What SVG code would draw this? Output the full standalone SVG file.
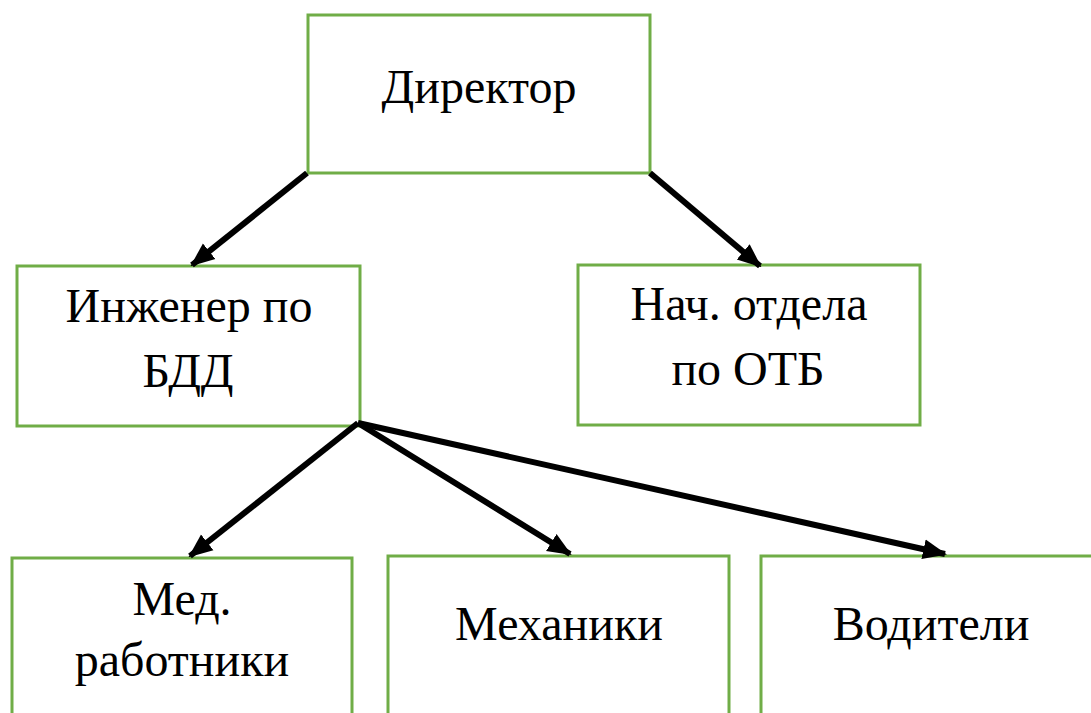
<svg xmlns="http://www.w3.org/2000/svg" width="1091" height="713" viewBox="0 0 1091 713">
<style>
.box{fill:#fff;stroke:#70ad47;stroke-width:3}
.t{font-family:"Liberation Serif","Times New Roman",serif;font-size:48px;fill:#000;text-anchor:middle}
.c{stroke:#000;stroke-width:6;fill:none;marker-end:url(#ah)}
</style>
<defs>
<marker id="ah" markerUnits="userSpaceOnUse" markerWidth="24" markerHeight="24" viewBox="0 0 24 24" refX="22" refY="12" orient="auto">
<path d="M0,2 L24,12 L0,22 Z" fill="#000"/>
</marker>
</defs>
<rect width="1091" height="713" fill="#fff"/>
<g id="director"><rect class="box" x="308" y="15" width="342" height="158"/><text class="t" x="479" y="103">Директор</text></g>
<g id="engineer"><rect class="box" x="17" y="266" width="343" height="160"/><text class="t" x="189" y="322">Инженер по</text><text class="t" x="188" y="387">БДД</text></g>
<g id="otb"><rect class="box" x="578" y="265" width="342" height="160"/><text class="t" x="749" y="320">Нач. отдела</text><text class="t" x="748" y="385">по ОТБ</text></g>
<g id="med"><rect class="box" x="12" y="558" width="340" height="170"/><text class="t" x="182" y="615">Мед.</text><text class="t" x="182" y="676">работники</text></g>
<g id="mech"><rect class="box" x="388" y="556" width="341" height="170"/><text class="t" x="559" y="640">Механики</text></g>
<g id="drivers"><rect class="box" x="761" y="556" width="345" height="170"/><text class="t" x="931" y="640">Водители</text></g>
<g id="connectors">
<line class="c" x1="307" y1="173" x2="192" y2="265"/>
<line class="c" x1="650" y1="173" x2="760" y2="266"/>
<line class="c" x1="358" y1="423" x2="190" y2="556"/>
<line class="c" x1="358" y1="423" x2="570" y2="554"/>
<line class="c" x1="358" y1="423" x2="945" y2="554"/>
</g>
</svg>
